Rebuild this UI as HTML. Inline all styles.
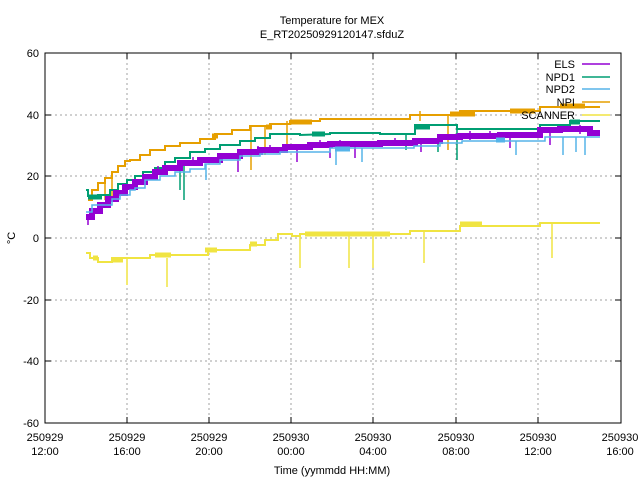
<!DOCTYPE html>
<html><head><meta charset="utf-8"><style>body{margin:0;background:#fff}svg{display:block}text{font-family:"Liberation Sans",sans-serif;font-size:11px;fill:#000}</style></head><body>
<svg width="640" height="480" xmlns="http://www.w3.org/2000/svg">
<rect width="640" height="480" fill="#fff"/>
<g stroke="#a0a0a0" stroke-dasharray="2,3" stroke-width="1">
<line x1="45" y1="115" x2="621" y2="115"/><line x1="45" y1="176" x2="621" y2="176"/><line x1="45" y1="238" x2="621" y2="238"/><line x1="45" y1="300" x2="621" y2="300"/><line x1="45" y1="361" x2="621" y2="361"/>
<line x1="127" y1="53" x2="127" y2="423"/><line x1="209" y1="53" x2="209" y2="423"/><line x1="291" y1="53" x2="291" y2="423"/><line x1="373" y1="53" x2="373" y2="423"/><line x1="456" y1="53" x2="456" y2="423"/><line x1="538" y1="53" x2="538" y2="423"/>
</g>
<g fill="none" stroke-linejoin="miter">
<polyline stroke="#f0e442" stroke-width="2" points="86,253 90,253 90,258 98,258 98,262 112,262 112,258 130,258 150,258 150,255 172,255 208,255 208,250 225,250 250,250 250,245 265,245 265,240 278,240 278,234 292,234 292,236 300,236 300,234 330,234 380,234 410,234 410,231 440,231 460,231 460,226 482,226 482,226 540,226 540,223 600,223"/>
<g stroke="#f0e442" stroke-width="5"><line x1="93" y1="258" x2="98" y2="258"/><line x1="113" y1="260" x2="123" y2="260"/><line x1="155" y1="255" x2="171" y2="255"/><line x1="205" y1="250" x2="217" y2="250"/><line x1="250" y1="244" x2="257" y2="244"/><line x1="305" y1="234" x2="390" y2="234"/><line x1="460" y1="224" x2="482" y2="224"/></g>
<g stroke="#f0e442" stroke-width="1.5"><line x1="127" y1="258" x2="127" y2="285"/><line x1="167" y1="258" x2="167" y2="287"/><line x1="300" y1="236" x2="300" y2="268"/><line x1="349" y1="234" x2="349" y2="268"/><line x1="373" y1="234" x2="373" y2="268"/><line x1="424" y1="231" x2="424" y2="263"/><line x1="552" y1="223" x2="552" y2="258"/></g>
<polyline stroke="#e69f00" stroke-width="2" points="88,200 92,200 92,190 98,190 98,183 105,183 105,178 112,178 112,172 118,172 118,166 125,166 125,161 130,161 130,160 140,160 140,155 150,155 150,150 165,150 165,146 180,146 180,143 200,143 200,139 215,139 215,134 232,134 232,130 250,130 250,126 270,126 270,124 285,124 290,124 290,121 320,121 320,119 380,119 410,119 410,115 460,115 460,111 540,111 540,107 600,107"/>
<g stroke="#e69f00" stroke-width="1.5"><line x1="105" y1="183" x2="105" y2="200"/><line x1="112" y1="178" x2="112" y2="196"/><line x1="251" y1="126" x2="251" y2="170"/><line x1="265" y1="126" x2="265" y2="155"/><line x1="448" y1="115" x2="448" y2="150"/><line x1="287" y1="121" x2="287" y2="148"/><line x1="420" y1="111" x2="420" y2="121"/></g>
<g stroke="#e69f00" stroke-width="5"><line x1="290" y1="122" x2="312" y2="122"/><line x1="510" y1="111" x2="535" y2="111"/><line x1="560" y1="106" x2="585" y2="106"/><line x1="450" y1="114" x2="475" y2="114"/><line x1="212" y1="136" x2="218" y2="136"/><line x1="266" y1="127" x2="272" y2="127"/></g>
<polyline stroke="#009e73" stroke-width="2" points="86,190 88,190 88,196 98,196 98,195 110,195 110,190 118,190 118,184 127,184 127,180 135,180 135,176 143,176 143,172 155,172 155,168 165,168 165,162 175,162 175,158 190,158 190,152 205,152 205,149 220,149 220,145 240,145 240,141 255,141 255,138 270,138 270,134 300,134 300,135 330,134 330,133 380,133 380,134 415,134 415,125 457,125 457,129 540,129 540,125 570,125 570,121 600,121"/>
<g stroke="#009e73" stroke-width="1.5"><line x1="180" y1="162" x2="180" y2="190"/><line x1="184" y1="162" x2="184" y2="200"/><line x1="438" y1="134" x2="438" y2="152"/><line x1="457" y1="129" x2="457" y2="160"/><line x1="406" y1="134" x2="406" y2="150"/></g>
<g stroke="#009e73" stroke-width="5"><line x1="88" y1="197" x2="102" y2="197"/><line x1="312" y1="134" x2="325" y2="134"/><line x1="415" y1="127" x2="430" y2="127"/><line x1="570" y1="122" x2="580" y2="122"/></g>
<polyline stroke="#9400d3" stroke-width="6" points="86,217 92,217 92,211 100,211 100,205 108,205 108,199 116,199 116,193 125,193 125,187 135,187 135,182 145,182 145,177 155,177 155,172 165,172 165,168 180,168 180,163 200,163 200,160 220,160 220,156 240,156 240,152 260,152 260,150 285,150 285,147 310,147 310,145 330,145 330,144 350,144 380,144 380,143 415,143 415,141 440,141 440,137 460,137 460,136 500,136 500,135 540,135 540,130 560,130 560,129 590,129 590,133 600,133"/>
<g stroke="#9400d3" stroke-width="1.5"><line x1="88" y1="215" x2="88" y2="225"/><line x1="238" y1="152" x2="238" y2="172"/><line x1="297" y1="147" x2="297" y2="162"/><line x1="330" y1="144" x2="330" y2="158"/><line x1="355" y1="144" x2="355" y2="158"/><line x1="421" y1="143" x2="421" y2="152"/><line x1="510" y1="135" x2="510" y2="148"/><line x1="550" y1="133" x2="550" y2="145"/><line x1="158" y1="166" x2="158" y2="175"/><line x1="178" y1="160" x2="178" y2="168"/><line x1="193" y1="157" x2="193" y2="165"/><line x1="258" y1="146" x2="258" y2="154"/><line x1="270" y1="145" x2="270" y2="152"/><line x1="320" y1="140" x2="320" y2="148"/><line x1="340" y1="140" x2="340" y2="147"/><line x1="395" y1="138" x2="395" y2="146"/><line x1="470" y1="131" x2="470" y2="140"/><line x1="490" y1="131" x2="490" y2="139"/><line x1="580" y1="125" x2="580" y2="134"/></g>
<polyline stroke="#56b4e9" stroke-width="1.5" points="86,212 92,212 92,205 97,205 97,205 112,205 112,199 120,199 120,195 130,195 130,190 135,190 135,188 145,188 145,180 160,180 160,176 175,176 175,172 190,172 190,169 205,169 205,164 220,164 220,160 240,160 240,156 260,156 260,154 280,154 280,152 300,152 330,152 330,148 360,148 360,148 414,148 414,146 440,146 440,143 462,143 462,141 545,141 545,137 600,137"/>
<g stroke="#56b4e9" stroke-width="1.5"><line x1="206" y1="164" x2="206" y2="180"/><line x1="336" y1="148" x2="336" y2="165"/><line x1="362" y1="148" x2="362" y2="162"/><line x1="516" y1="141" x2="516" y2="155"/><line x1="563" y1="137" x2="563" y2="155"/><line x1="576" y1="137" x2="576" y2="152"/><line x1="585" y1="137" x2="585" y2="155"/></g>
<g stroke="#56b4e9" stroke-width="5"><line x1="335" y1="149" x2="350" y2="149"/><line x1="496" y1="140" x2="505" y2="140"/></g>
</g>
<rect x="45" y="53" width="576" height="370" fill="none" stroke="#000"/>
<g stroke="#000"><line x1="45" y1="53" x2="51" y2="53"/><line x1="45" y1="115" x2="51" y2="115"/><line x1="45" y1="176" x2="51" y2="176"/><line x1="45" y1="238" x2="51" y2="238"/><line x1="45" y1="300" x2="51" y2="300"/><line x1="45" y1="361" x2="51" y2="361"/><line x1="45" y1="423" x2="51" y2="423"/>
<line x1="621" y1="115" x2="615" y2="115"/><line x1="621" y1="176" x2="615" y2="176"/><line x1="621" y1="238" x2="615" y2="238"/><line x1="621" y1="300" x2="615" y2="300"/><line x1="621" y1="361" x2="615" y2="361"/>
<line x1="127" y1="423" x2="127" y2="417"/><line x1="209" y1="423" x2="209" y2="417"/><line x1="291" y1="423" x2="291" y2="417"/><line x1="373" y1="423" x2="373" y2="417"/><line x1="456" y1="423" x2="456" y2="417"/><line x1="538" y1="423" x2="538" y2="417"/>
<line x1="127" y1="53" x2="127" y2="59"/><line x1="209" y1="53" x2="209" y2="59"/><line x1="291" y1="53" x2="291" y2="59"/><line x1="373" y1="53" x2="373" y2="59"/><line x1="456" y1="53" x2="456" y2="59"/><line x1="538" y1="53" x2="538" y2="59"/></g>
<g text-anchor="end"><text x="39" y="57">60</text><text x="39" y="119">40</text><text x="39" y="180">20</text><text x="39" y="242">0</text><text x="39" y="304">-20</text><text x="39" y="365">-40</text><text x="39" y="427">-60</text></g>
<g text-anchor="middle">
<text x="45" y="441">250929</text><text x="45" y="455">12:00</text>
<text x="127" y="441">250929</text><text x="127" y="455">16:00</text>
<text x="209" y="441">250929</text><text x="209" y="455">20:00</text>
<text x="291" y="441">250930</text><text x="291" y="455">00:00</text>
<text x="373" y="441">250930</text><text x="373" y="455">04:00</text>
<text x="456" y="441">250930</text><text x="456" y="455">08:00</text>
<text x="538" y="441">250930</text><text x="538" y="455">12:00</text>
<text x="620" y="441">250930</text><text x="620" y="455">16:00</text>
<text x="332" y="24">Temperature for MEX</text><text x="332" y="38">E_RT20250929120147.sfduZ</text>
<text x="332" y="474">Time (yymmdd HH:MM)</text>
</g>
<text x="15" y="238" text-anchor="middle" transform="rotate(-90 15 238)">°C</text>
<g text-anchor="end"><text x="575" y="68">ELS</text><text x="575" y="81">NPD1</text><text x="575" y="93">NPD2</text><text x="575" y="106">NPI</text><text x="575" y="119">SCANNER</text></g>
<g stroke-width="1.5"><line x1="582" y1="64" x2="610" y2="64" stroke="#9400d3"/><line x1="582" y1="77" x2="610" y2="77" stroke="#009e73"/><line x1="582" y1="89" x2="610" y2="89" stroke="#56b4e9"/><line x1="582" y1="102" x2="610" y2="102" stroke="#e69f00"/><line x1="582" y1="115" x2="610" y2="115" stroke="#f0e442"/></g>
</svg>
</body></html>
